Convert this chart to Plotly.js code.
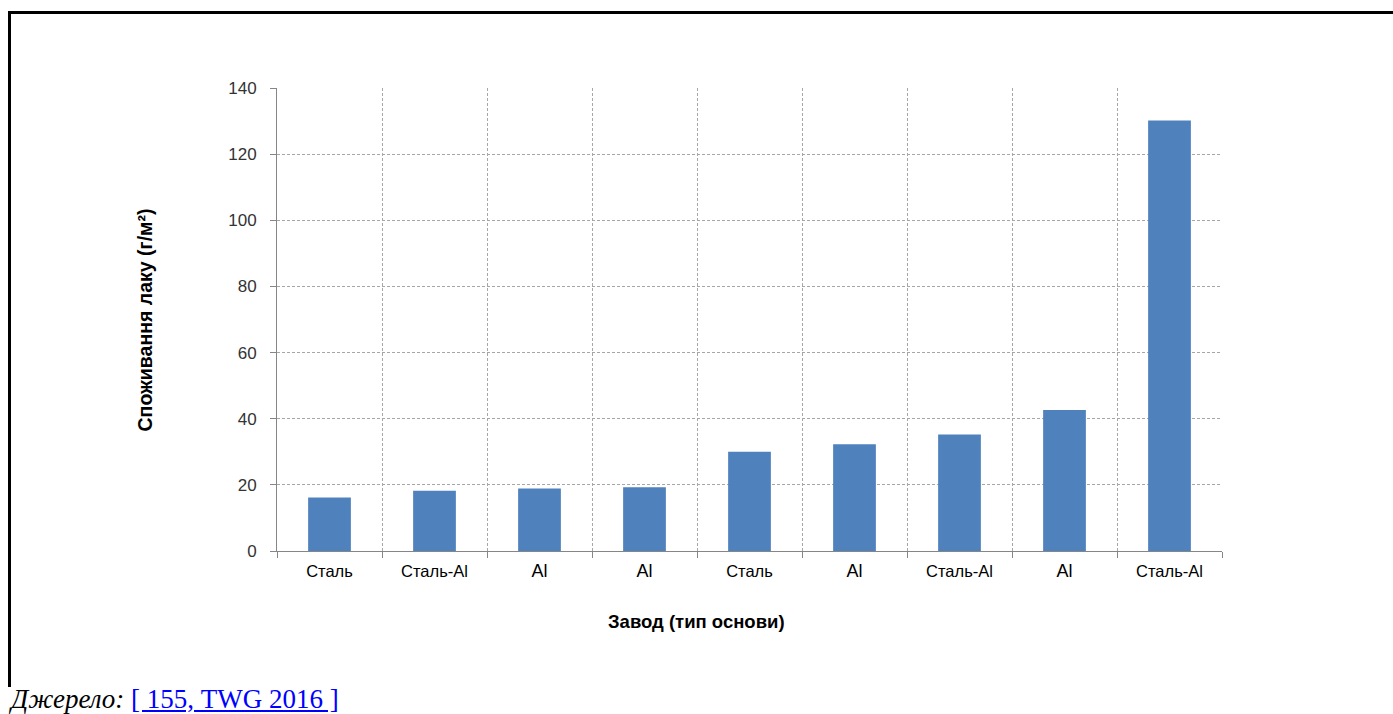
<!DOCTYPE html>
<html>
<head>
<meta charset="utf-8">
<script src="https://cdn.plot.ly/plotly-3.0.1.min.js"></script>
<style>
  html, body { margin: 0; padding: 0; background: #fff; width: 1393px; height: 714px; overflow: hidden; }
  #frame { position: absolute; left: 8px; top: 11px; width: 1385px; height: 676px; box-sizing: border-box; border-top: 3px solid #000; border-left: 3px solid #000; }
  #chart { position: absolute; left: 0; top: 0; width: 1393px; height: 714px; }
  #source { position: absolute; left: 11px; top: 686px; font-family: "Liberation Serif", "Times New Roman", serif; font-size: 27px; line-height: 26px; white-space: nowrap; }
  #source i { color: #000; }
  #source a { color: #0000ff; text-decoration: underline; }
</style>
</head>
<body>
<div id="frame"></div>
<div id="chart"></div>
<div id="source"><i>Джерело:</i> <a href="#">[ 155, TWG 2016 ]</a></div>
<script>
// Plants (ordered by consumption) and substrate type labels
const plants = ['1', '2', '3', '4', '5', '6', '7', '8', '9'];
const substrates = ['Сталь', 'Сталь-Al', 'Al', 'Al', 'Сталь', 'Al', 'Сталь-Al', 'Al', 'Сталь-Al'];
const consumption = [16.2, 18.2, 18.9, 19.3, 30.0, 32.3, 35.2, 42.6, 130.2];
const yTicks = [0, 20, 40, 60, 80, 100, 120, 140];

const tickText = substrates.map(s => s === 'Al'
  ? "<span style='font-size:18px'>" + s + "</span>"
  : s);

const trace = {
  type: 'bar',
  x: plants,
  y: consumption,
  marker: { color: '#4F81BD', line: { width: 0 } },
  hoverinfo: 'skip'
};

const layout = {
  width: 1393,
  height: 714,
  paper_bgcolor: 'rgba(0,0,0,0)',
  plot_bgcolor: 'rgba(0,0,0,0)',
  margin: { l: 277, r: 171, t: 88, b: 163, pad: 0 },
  showlegend: false,
  bargap: 0.593,
  font: { family: 'Liberation Sans, Arial, sans-serif', color: '#000' },
  xaxis: {
    type: 'category',
    tickmode: 'array',
    tickvals: plants,
    ticktext: tickText,
    tickson: 'boundaries',
    ticks: 'outside',
    ticklen: 6,
    tickcolor: '#868686',
    tickfont: { size: 16.5, color: '#000', family: 'Liberation Sans, Arial, sans-serif' },
    ticklabelstandoff: 5,
    showline: true,
    linecolor: '#868686',
    linewidth: 1,
    showgrid: true,
    gridcolor: '#a6a6a6',
    griddash: '3px,2px',
    gridwidth: 1,
    zeroline: false,
    fixedrange: true
  },
  yaxis: {
    range: [0, 140],
    tickmode: 'array',
    tickvals: yTicks,
    ticks: 'outside',
    ticklen: 6,
    tickcolor: '#868686',
    tickfont: { size: 17, color: '#333', family: 'Liberation Sans, Arial, sans-serif' },
    ticklabelstandoff: 10,
    showline: true,
    linecolor: '#868686',
    linewidth: 1,
    showgrid: true,
    gridcolor: '#a6a6a6',
    griddash: '3px,2px',
    gridwidth: 1,
    zeroline: false,
    fixedrange: true
  },
  annotations: [
    {
      text: '<b>Споживання лаку (г/м²)</b>',
      xref: 'paper', yref: 'paper',
      x: -0.1397, y: 0.5,
      xanchor: 'center', yanchor: 'middle',
      textangle: -90,
      showarrow: false,
      font: { size: 19.5, color: '#000', family: 'Liberation Sans, Arial, sans-serif' }
    },
    {
      text: '<b>Завод (тип основи)</b>',
      xref: 'paper', yref: 'paper',
      x: 0.4439, y: -0.1512,
      xanchor: 'center', yanchor: 'middle',
      showarrow: false,
      font: { size: 18.5, color: '#000', family: 'Liberation Sans, Arial, sans-serif' }
    }
  ]
};

Plotly.newPlot('chart', [trace], layout, { displayModeBar: false, staticPlot: true });
</script>
</body>
</html>
